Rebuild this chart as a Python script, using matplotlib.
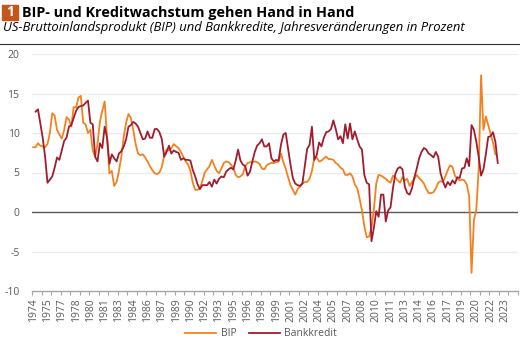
import numpy as np
import matplotlib
matplotlib.use('Agg')
import matplotlib.pyplot as plt
from matplotlib.patches import Rectangle
from matplotlib.lines import Line2D

plt.rcParams['font.family'] = ['Open Sans', 'DejaVu Sans']
plt.rcParams['axes.unicode_minus'] = False

# Quarterly year-on-year changes in %, first value = 1974Q1
bip = [8.2, 8.2, 8.7, 8.4, 8.3, 8.2, 8.6, 10.0, 12.5, 12.2,
       10.4, 9.8, 9.3, 10.4, 12.0, 11.7, 10.8, 13.3, 13.2, 14.5,
       14.7, 11.3, 11.1, 10.0, 10.4, 7.8, 7.0, 8.6, 11.4, 12.8,
       14.0, 9.5, 4.9, 5.2, 3.3, 3.8, 5.2, 7.0, 9.5, 11.3,
       12.4, 11.9, 10.4, 8.6, 7.4, 7.2, 7.3, 6.9, 6.4, 5.8,
       5.3, 4.9, 4.8, 5.0, 5.7, 7.2, 7.9, 7.8, 8.1, 8.6,
       8.3, 8.1, 7.6, 7.0, 6.4, 6.0, 5.2, 3.7, 2.8, 2.8,
       3.0, 3.9, 5.0, 5.4, 5.8, 6.6, 5.9, 5.2, 4.9, 5.5,
       6.2, 6.4, 6.3, 6.0, 5.6, 4.7, 4.4, 4.5, 4.8, 5.8,
       6.2, 6.3, 6.3, 6.4, 6.3, 6.1, 5.5, 5.4, 5.9, 6.1,
       6.2, 6.2, 6.3, 6.4, 7.4, 6.3, 5.5, 4.4, 3.4, 2.8,
       2.2, 2.9, 3.2, 3.6, 3.8, 3.8, 4.2, 5.2, 6.8, 6.9,
       6.4, 6.5, 6.8, 7.0, 6.7, 6.7, 6.6, 6.2, 6.0, 5.6,
       5.4, 4.7, 4.7, 4.9, 4.5, 3.5, 3.0, 1.7, 0.2, -1.8,
       -3.2, -3.1, -2.0, 0.3, 3.6, 4.7, 4.6, 4.4, 4.2, 3.9,
       3.7, 4.6, 4.4, 4.0, 3.7, 4.4, 4.0, 4.2, 3.3, 3.8,
       4.2, 4.7, 4.3, 4.0, 3.6, 2.9, 2.4, 2.4, 2.5, 3.0,
       3.7, 3.9, 3.8, 4.5, 5.3, 5.9, 5.7, 4.6, 4.2, 4.0,
       4.1, 4.0, 3.5, 2.0, -7.7, -1.0, 0.3, 5.5, 17.3, 10.4,
       12.1, 11.0, 9.9, 8.8, 7.3]

bankkredit = [np.nan, 12.7, 13.0, 11.2, 9.4, 7.0, 3.7, 4.1, 4.5, 5.6,
              6.9, 6.6, 7.8, 9.0, 9.4, 10.8, 11.0, 11.9, 12.8, 13.3,
              13.4, 13.5, 13.8, 14.1, 11.3, 11.1, 7.0, 6.4, 8.7, 8.1,
              10.8, 9.4, 6.1, 7.3, 6.8, 6.4, 7.4, 7.7, 8.3, 9.2,
              10.8, 11.0, 11.4, 11.2, 10.8, 10.0, 9.2, 9.3, 10.2, 9.4,
              9.4, 10.5, 10.5, 10.1, 9.2, 7.0, 7.6, 8.4, 7.4, 7.8,
              7.6, 7.5, 6.6, 6.8, 6.6, 6.6, 6.5, 5.3, 4.5, 3.5,
              2.9, 3.4, 3.4, 3.4, 3.8, 3.2, 4.1, 3.6, 4.2, 4.5,
              4.4, 5.1, 5.4, 5.6, 5.4, 6.5, 7.9, 6.5, 6.0, 5.8,
              4.6, 5.1, 6.4, 7.6, 8.4, 8.7, 9.2, 8.3, 8.3, 8.7,
              6.8, 6.4, 6.6, 6.5, 8.5, 9.8, 10.0, 8.0, 6.0, 4.3,
              3.6, 3.4, 3.3, 3.6, 5.8, 8.0, 8.5, 10.8, 6.6, 7.2,
              8.8, 8.3, 9.4, 10.1, 10.2, 10.5, 11.6, 10.5, 9.2, 9.6,
              8.7, 11.1, 9.3, 11.2, 9.2, 10.2, 9.2, 8.3, 7.9, 4.7,
              3.7, 3.5, -3.7, -2.0, 0.1, -0.6, 2.2, 2.2, -1.2, 0.2,
              0.6, 3.0, 4.8, 5.5, 5.7, 5.4, 3.2, 2.4, 2.2, 3.0,
              4.4, 5.5, 6.8, 7.6, 8.1, 7.9, 7.4, 7.2, 6.9, 7.6,
              7.0, 4.9, 3.9, 3.1, 3.8, 3.4, 4.0, 3.6, 4.4, 4.3,
              5.5, 5.6, 6.8, 5.8, 11.0, 10.4, 8.9, 7.0, 4.6, 5.4,
              7.3, 9.5, 9.6, 10.1, 8.9, 6.2]

label_years = [1974, 1975, 1977, 1978, 1980, 1981, 1983, 1984, 1986, 1987,
               1989, 1990, 1992, 1993, 1995, 1996, 1998, 1999, 2001, 2002,
               2004, 2005, 2007, 2008, 2010, 2011, 2013, 2014, 2016, 2017,
               2019, 2020, 2022, 2023]

orange = '#f4811f'
darkred = '#a11d2e'
grey = '#595959'

fig = plt.figure(figsize=(5.2, 3.42), dpi=100)
ax = fig.add_axes([32/520, 51/342, 486/520, 237/342])

ax.plot(np.arange(len(bip)), bip, color=orange, lw=1.3, label='BIP', zorder=3)
ax.plot(np.arange(len(bankkredit)), bankkredit, color=darkred, lw=1.3, label='Bankkredit', zorder=4)

ax.set_xlim(-0.5, 203.5)
ax.set_ylim(-10, 20)
ax.set_yticks(range(-10, 21, 5))
for y in [-5, 5, 10, 15, 20]:
    ax.axhline(y, color='#ebebeb', lw=0.9, zorder=0)
ax.axhline(0, color=grey, lw=1.0, zorder=2)

for s in ['top', 'right', 'left']:
    ax.spines[s].set_visible(False)
ax.spines['bottom'].set_color('#a6a6a6')
ax.spines['bottom'].set_linewidth(1.0)

ax.tick_params(axis='y', length=0, labelsize=7.5, labelcolor=grey, pad=9)

# tick marks every 4 quarters, year labels every 6 quarters
ax.set_xticks(np.arange(-0.5, 204, 4))
ax.set_xticklabels([])
ax.tick_params(axis='x', which='major', length=3, width=0.8, color='#a6a6a6')
ax.set_xticks(np.arange(len(label_years)) * 6, minor=True)
ax.set_xticklabels([str(y) for y in label_years], minor=True, rotation=90)
ax.tick_params(axis='x', which='minor', length=0, labelsize=7.5, labelcolor=grey, pad=5)

# title block
fig.patches.append(Rectangle((2/520, 1 - 20/342), 16/520, 15/342,
                             transform=fig.transFigure, color='#c4561b'))
fig.text(10/520, 1 - 12.5/342, '1', color='white', fontweight='bold',
         fontsize=10, ha='center', va='center')
fig.text(22/520, 1 - 12.5/342, 'BIP- und Kreditwachstum gehen Hand in Hand',
         fontweight='bold', fontsize=10.4, ha='left', va='center', color='black')
fig.text(3/520, 1 - 28/342,
         'US-Bruttoinlandsprodukt (BIP) und Bankkredite, Jahresveränderungen in Prozent',
         fontstyle='italic', fontsize=9.4, ha='left', va='center', color='black')
fig.add_artist(Line2D([0, 1], [1 - 44/342, 1 - 44/342], transform=fig.transFigure,
                      color='#333333', lw=0.8))

leg = fig.legend(loc='center', bbox_to_anchor=(261/520, 1 - 334/342), ncol=2,
                 frameon=False, fontsize=7.5, handlelength=3, columnspacing=1.2,
                 handletextpad=0.4, borderpad=0)
for t in leg.get_texts():
    t.set_color(grey)

plt.savefig('out.png', dpi=100)
